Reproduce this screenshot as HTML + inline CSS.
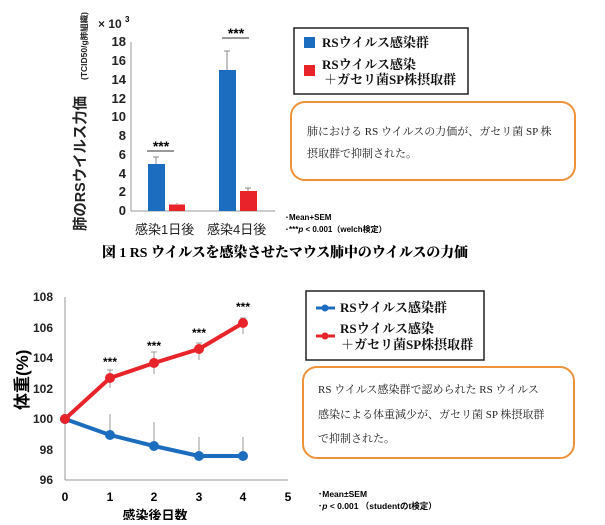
<!DOCTYPE html>
<html><head><meta charset="utf-8"><style>
body{margin:0;background:#fff;width:605px;height:520px;overflow:hidden;font-family:"Liberation Sans","Noto Sans CJK JP",sans-serif}
</style></head><body>
<svg width="605" height="520" xmlns="http://www.w3.org/2000/svg" font-family="Liberation Sans, Noto Sans CJK JP, sans-serif">
<!-- Top chart -->
<g font-size="13" font-weight="bold" fill="#222" text-anchor="end">
<text x="126" y="46">18</text><text x="126" y="65">16</text><text x="126" y="84">14</text><text x="126" y="103">12</text><text x="126" y="121">10</text><text x="126" y="140">8</text><text x="126" y="159">6</text><text x="126" y="178">4</text><text x="126" y="196">2</text><text x="126" y="215">0</text>
</g>
<text x="98" y="28" font-size="12" font-weight="bold" fill="#222">× 10</text><text x="125" y="22" font-size="8" font-weight="bold">3</text>
<line x1="131" y1="42" x2="131" y2="211" stroke="#999"/>
<line x1="131" y1="211" x2="275" y2="211" stroke="#999"/>
<rect x="148" y="164" width="17" height="47" fill="#1c6dbf"/>
<rect x="169" y="204.5" width="16" height="6.5" fill="#e8232a"/>
<rect x="219" y="70" width="17" height="141" fill="#1c6dbf"/>
<rect x="240" y="191" width="17" height="20" fill="#e8232a"/>
<g stroke="#888"><line x1="156" y1="164" x2="156" y2="157"/><line x1="153" y1="157" x2="159" y2="157"/>
<line x1="227" y1="70" x2="227" y2="51"/><line x1="224" y1="51" x2="230" y2="51"/>
<line x1="177" y1="204" x2="177" y2="203"/><line x1="248" y1="191" x2="248" y2="188"/><line x1="245" y1="188" x2="251" y2="188"/></g>
<line x1="147" y1="151" x2="174" y2="151" stroke="#333"/><line x1="222" y1="38" x2="249" y2="38" stroke="#333"/>
<text x="161" y="151" font-size="14" font-weight="bold" text-anchor="middle">***</text>
<text x="236" y="38" font-size="14" font-weight="bold" text-anchor="middle">***</text>
<text x="135" y="234" font-size="13" fill="#222">感染1日後</text><text x="207" y="234" font-size="13" fill="#222">感染4日後</text>
<text transform="translate(85,231) rotate(-90)" font-size="15" font-weight="bold" fill="#222" textLength="135" lengthAdjust="spacingAndGlyphs">肺のRSウイルス力価</text>
<text transform="translate(87,80) rotate(-90)" font-size="8" font-weight="bold" fill="#222" textLength="68" lengthAdjust="spacingAndGlyphs">(TCID50/g肺組織)</text>
<rect x="294" y="28" width="174" height="66" fill="#fff" stroke="#222" stroke-width="1.5"/>
<rect x="304" y="37" width="11" height="11" fill="#1c6dbf"/><rect x="304" y="65" width="11" height="11" fill="#e8232a"/>
<g font-family="Liberation Serif, Noto Serif CJK SC, serif" font-weight="bold" font-size="13" fill="#111">
<text x="322" y="47">RSウイルス感染群</text><text x="322" y="69">RSウイルス感染</text><text x="324" y="84">＋ガセリ菌SP株摂取群</text></g>
<rect x="291" y="102" width="284" height="78" rx="14" fill="#fff" stroke="#f0923a" stroke-width="2"/>
<g font-family="Liberation Serif, Noto Serif CJK SC, serif" font-size="11" fill="#222"><text x="307" y="135">肺における RS ウイルスの力価が、ガセリ菌 SP 株</text><text x="307" y="157">摂取群で抑制された。</text></g>
<text x="285" y="220" font-size="8" font-weight="bold">･Mean+SEM</text><text x="285" y="232" font-size="8" font-weight="bold">･***<tspan font-style="italic">p</tspan> &lt; 0.001（welch検定）</text>
<text x="102" y="257" font-family="Liberation Serif, Noto Serif CJK SC, serif" font-size="14" font-weight="900" textLength="366" lengthAdjust="spacingAndGlyphs">図 1  RS ウイルスを感染させたマウス肺中のウイルスの力価</text>
<!-- Bottom chart -->
<g font-size="12" font-weight="bold" fill="#222" text-anchor="end">
<text x="53" y="301">108</text><text x="53" y="332">106</text><text x="53" y="362">104</text><text x="53" y="393">102</text><text x="53" y="423">100</text><text x="53" y="454">98</text><text x="53" y="484">96</text></g>
<line x1="65" y1="297" x2="65" y2="480" stroke="#999"/><line x1="65" y1="480" x2="288" y2="480" stroke="#999"/>
<g font-size="12" font-weight="bold" text-anchor="middle"><text x="65" y="501">0</text><text x="110" y="501">1</text><text x="154" y="501">2</text><text x="199" y="501">3</text><text x="243" y="501">4</text><text x="288" y="501">5</text></g>
<text x="155" y="520" font-size="13" font-weight="bold" text-anchor="middle">感染後日数</text>
<text transform="translate(28,410) rotate(-90)" font-size="17" font-weight="bold">体重(%)</text>
<g stroke="#999"><line x1="110" y1="433" x2="110" y2="414"/><line x1="154" y1="444" x2="154" y2="422"/><line x1="199" y1="454" x2="199" y2="437"/><line x1="243" y1="454" x2="243" y2="437"/>
<line x1="110" y1="388" x2="110" y2="370"/><line x1="154" y1="374" x2="154" y2="352"/><line x1="199" y1="360" x2="199" y2="343"/><line x1="243" y1="334" x2="243" y2="318"/>
<line x1="107" y1="433" x2="113" y2="433"/><line x1="151" y1="444" x2="157" y2="444"/><line x1="196" y1="454" x2="202" y2="454"/><line x1="240" y1="454" x2="246" y2="454"/>
<line x1="107" y1="370" x2="113" y2="370"/><line x1="151" y1="352" x2="157" y2="352"/><line x1="196" y1="343" x2="202" y2="343"/><line x1="240" y1="318" x2="246" y2="318"/></g>
<polyline points="65,419 110,435 154,446 199,456 243,456" fill="none" stroke="#1c6dbf" stroke-width="4"/>
<polyline points="65,419 110,378 154,363 199,349 243,323" fill="none" stroke="#e8232a" stroke-width="4"/>
<g fill="#1c6dbf"><circle cx="65" cy="419" r="5"/><circle cx="110" cy="435" r="5"/><circle cx="154" cy="446" r="5"/><circle cx="199" cy="456" r="5"/><circle cx="243" cy="456" r="5"/></g>
<g fill="#e8232a"><circle cx="65" cy="419" r="5"/><circle cx="110" cy="378" r="5"/><circle cx="154" cy="363" r="5"/><circle cx="199" cy="349" r="5"/><circle cx="243" cy="323" r="5"/></g>
<g font-size="12" font-weight="bold" text-anchor="middle"><text x="110" y="366">***</text><text x="154" y="350">***</text><text x="199" y="337">***</text><text x="243" y="311">***</text></g>
<rect x="306" y="291" width="178" height="69" fill="#fff" stroke="#222" stroke-width="1.5"/>
<line x1="316" y1="308" x2="335" y2="308" stroke="#1c6dbf" stroke-width="3"/><circle cx="325" cy="308" r="3.5" fill="#1c6dbf"/>
<line x1="316" y1="336" x2="335" y2="336" stroke="#e8232a" stroke-width="3"/><circle cx="325" cy="336" r="3.5" fill="#e8232a"/>
<g font-family="Liberation Serif, Noto Serif CJK SC, serif" font-weight="bold" font-size="13" fill="#111">
<text x="340" y="312">RSウイルス感染群</text><text x="340" y="333">RSウイルス感染</text><text x="341" y="349">＋ガセリ菌SP株摂取群</text></g>
<rect x="303" y="367" width="271" height="91" rx="14" fill="#fff" stroke="#f0923a" stroke-width="2"/>
<g font-family="Liberation Serif, Noto Serif CJK SC, serif" font-size="11" fill="#222"><text x="318" y="393">RS ウイルス感染群で認められた RS ウイルス</text><text x="318" y="418">感染による体重減少が、ガセリ菌 SP 株摂取群</text><text x="318" y="442">で抑制された。</text></g>
<text x="318" y="497" font-size="8.5" font-weight="bold">･Mean±SEM</text><text x="318" y="509" font-size="8.5" font-weight="bold">･<tspan font-style="italic">p</tspan> &lt; 0.001 （studentのt検定）</text>
</svg>
</body></html>
